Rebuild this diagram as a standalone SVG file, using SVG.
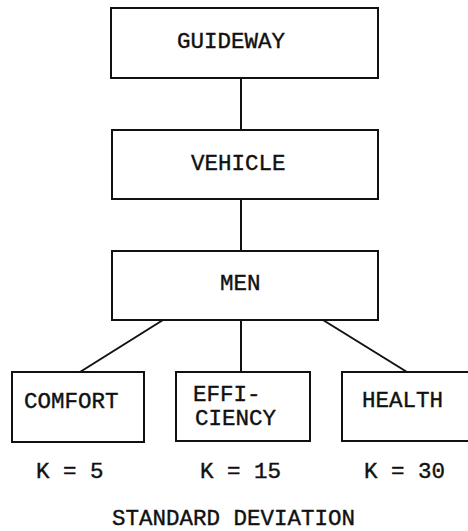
<svg xmlns="http://www.w3.org/2000/svg" width="468" height="531" viewBox="0 0 468 531">
<style>
.box{fill:#fff;stroke:#111;stroke-width:2}
.lbl{font-family:"Liberation Mono","DejaVu Sans Mono",monospace;font-size:22.5px;fill:#111;stroke:#111;stroke-width:0.4}
.ln{stroke:#111;stroke-width:2;fill:none}
</style>
<rect width="468" height="531" fill="#fff"/>
<g id="connectors">
<line class="ln" x1="241" y1="78" x2="241" y2="130"/>
<line class="ln" x1="241" y1="199" x2="241" y2="251"/>
<line class="ln" x1="241" y1="320" x2="241" y2="372"/>
<line class="ln" x1="163" y1="320" x2="80" y2="372"/>
<line class="ln" x1="323" y1="320" x2="407" y2="372"/>
</g>
<g id="guideway"><rect class="box" x="111" y="8" width="267" height="70"/><text class="lbl" x="177" y="48">GUIDEWAY</text></g>
<g id="vehicle"><rect class="box" x="112" y="130" width="266" height="69"/><text class="lbl" x="191" y="170">VEHICLE</text></g>
<g id="men"><rect class="box" x="112" y="251" width="266" height="69"/><text class="lbl" x="220" y="290">MEN</text></g>
<g id="comfort"><rect class="box" x="12" y="372" width="132" height="70"/><text class="lbl" x="24" y="408">COMFORT</text></g>
<g id="efficiency"><rect class="box" x="176" y="372" width="134" height="69"/><text class="lbl" x="193" y="401">EFFI-</text><text class="lbl" x="195" y="425">CIENCY</text></g>
<g id="health"><rect class="box" x="342" y="372" width="130" height="69"/><text class="lbl" x="362" y="407">HEALTH</text></g>
<g id="k-labels">
<text class="lbl" x="36" y="478">K = 5</text>
<text class="lbl" x="200" y="478">K = 15</text>
<text class="lbl" x="364" y="478">K = 30</text>
</g>
<text class="lbl" x="112" y="525">STANDARD DEVIATION</text>
</svg>
